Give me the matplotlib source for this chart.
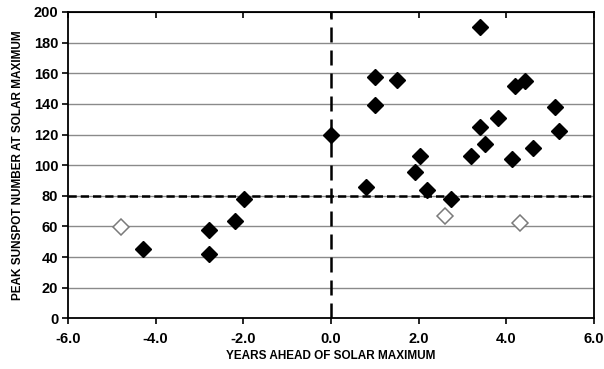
import matplotlib
matplotlib.use("Agg")
import matplotlib.pyplot as plt

plt.rcParams['font.family'] = ['Liberation Sans', 'DejaVu Sans']
plt.rcParams['font.weight'] = 'bold'

# Filled diamonds (years ahead, peak sunspot number)
filled_x = [-4.28, -2.78, -2.78, -2.18, -1.98, 0.0, 0.81, 1.0, 1.0, 1.5, 1.91, 2.02, 2.2, 2.73,
            3.2, 3.4, 3.41, 3.52, 3.8, 4.13, 4.2, 4.43, 4.62, 5.12, 5.21]
filled_y = [45.5, 57.5, 41.8, 63.6, 77.8, 119.6, 85.8, 157.3, 139.0, 155.6, 95.6, 106.0, 83.7, 77.6,
            106.0, 190.4, 125.0, 114.0, 131.0, 103.7, 151.6, 154.7, 111.0, 138.0, 122.0]
# Hollow diamonds
hollow_x = [-4.79, 2.61, 4.31]
hollow_y = [59.7, 67.0, 62.0]

x_ticks = [-6.0, -4.0, -2.0, 0.0, 2.0, 4.0, 6.0]
x_tick_labels = ['-6.0', '-4.0', '-2.0', '0.0', '2.0', '4.0', '6.0']
y_ticks = [0, 20, 40, 60, 80, 100, 120, 140, 160, 180, 200]
threshold_y = 80
x_label = 'YEARS AHEAD OF SOLAR MAXIMUM'
y_label = 'PEAK SUNSPOT NUMBER AT SOLAR MAXIMUM'

fig = plt.figure(figsize=(6.04, 3.69), dpi=100)
ax = fig.add_axes([0.1126, 0.1374, 0.8708, 0.8301])

ax.set_xlim(-6, 6)
ax.set_ylim(0, 200)
ax.set_yticks(y_ticks)
ax.set_xticks(x_ticks)
ax.set_xticklabels(x_tick_labels)

for y in y_ticks[1:-1]:
    ax.axhline(y, color='#8a8a8a', lw=1.0, zorder=1)

ax.axhline(threshold_y, color='black', lw=1.8, dashes=(3.3, 1.6), zorder=2)
ax.axvline(0, color='black', lw=1.8, dashes=(6.0, 3.2), zorder=2)

ax.plot(filled_x, filled_y, linestyle='none', marker='D', markersize=8.5,
        markerfacecolor='black', markeredgecolor='black', zorder=4)
ax.plot(hollow_x, hollow_y, linestyle='none', marker='D', markersize=8.5,
        markerfacecolor='white', markeredgecolor='#7a7a7a', markeredgewidth=1.1, zorder=4)

for s in ax.spines.values():
    s.set_linewidth(1.3)
    s.set_color('black')

ax.tick_params(axis='y', direction='out', length=4, width=1.2, labelsize=10.5, pad=3)
ax.tick_params(axis='x', direction='out', length=4, width=1.2, labelsize=10.5, pad=6)

sec = ax.secondary_xaxis('top')
sec.set_xticks(x_ticks)
sec.tick_params(direction='in', length=4, width=1.2, labeltop=False)

ax.set_xlabel(x_label, fontsize=8.5, fontweight='bold', labelpad=3)
ax.set_ylabel(y_label, fontsize=8.5, fontweight='bold', labelpad=7)

fig.savefig('out.png', dpi=100)
